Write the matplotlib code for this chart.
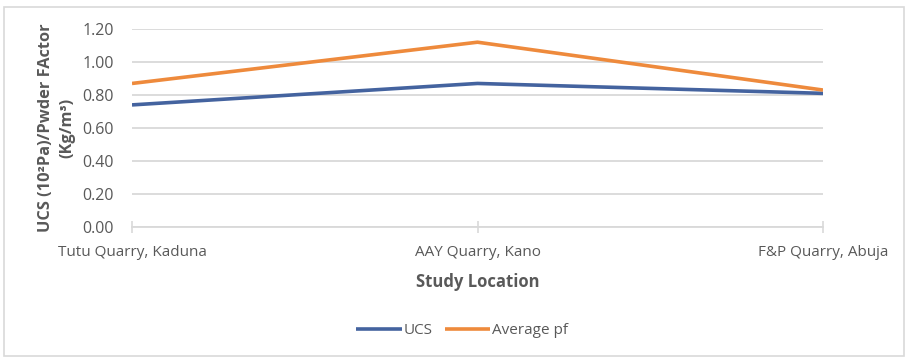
import matplotlib.pyplot as plt
from matplotlib.patches import Rectangle

# data
locations = ['Tutu Quarry, Kaduna', 'AAY Quarry, Kano', 'F&P Quarry, Abuja']
ucs = [0.74, 0.87, 0.81]
avg_pf = [0.87, 1.12, 0.83]
yticks = [0.00, 0.20, 0.40, 0.60, 0.80, 1.00, 1.20]

txt_color = '#595959'
grid_color = '#d9d9d9'
plt.rcParams['font.family'] = ['Open Sans', 'DejaVu Sans']

fig = plt.figure(figsize=(9.05, 3.57), dpi=100)
ax = fig.add_axes([132/905, 1-227/357, 691/905, 198/357])

x = list(range(len(locations)))
ax.plot(x, ucs, color='#44639f', lw=2.6, label='UCS', solid_capstyle='butt')
ax.plot(x, avg_pf, color='#ee8a3c', lw=2.6, label='Average pf', solid_capstyle='butt')

ax.set_xlim(0, 2)
ax.set_ylim(0, 1.2)
ax.set_yticks(yticks)
ax.set_yticklabels(['%.2f' % v for v in yticks])
ax.set_xticks(x)
ax.set_xticklabels(locations)
ax.grid(axis='y', color=grid_color, lw=1.3)
ax.set_axisbelow(True)
for s in ['top', 'right', 'left']:
    ax.spines[s].set_visible(False)
ax.spines['bottom'].set_color(grid_color)
ax.spines['bottom'].set_linewidth(1.3)
ax.tick_params(axis='y', length=0, pad=13, labelsize=11.5, labelcolor=txt_color)
ax.tick_params(axis='x', length=8, direction='inout', color=grid_color, width=1.2,
               pad=9, labelsize=11, labelcolor=txt_color)

ax.set_xlabel('Study Location', fontsize=12, fontweight='bold', color=txt_color, labelpad=9)
ax.set_ylabel('UCS (10²Pa)/Pwder FActor\n(Kg/m³)', fontsize=11.8, fontweight='bold',
              color=txt_color, labelpad=5, linespacing=1.45)

leg = fig.legend(loc='center', bbox_to_anchor=(462/905, 1-331/357), ncol=2, frameon=False,
                 fontsize=11, handlelength=3.0, handletextpad=0.1, columnspacing=0.8)
for t in leg.get_texts():
    t.set_color(txt_color)

# chart border
fig.patches.append(Rectangle((4/905, 0.002), 0.995, 1-7/357-0.002, transform=fig.transFigure,
                             fill=False, edgecolor=grid_color, lw=1.2))

fig.savefig('out.png', dpi=100)
